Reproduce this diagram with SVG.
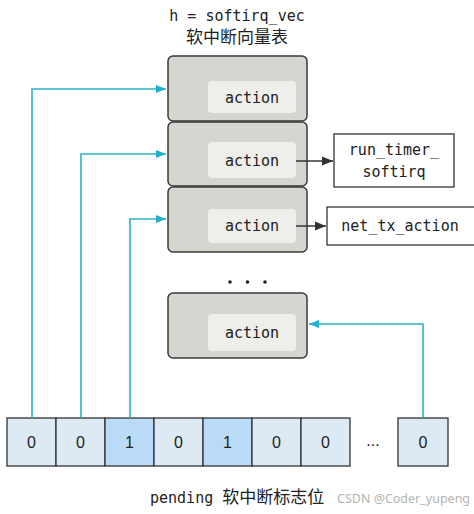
<svg xmlns="http://www.w3.org/2000/svg" width="474" height="514" viewBox="0 0 474 514">
<defs>
<style>
.mono{font-family:"DejaVu Sans Mono","Liberation Mono",monospace;font-size:15px;fill:#222}
.cjk{font-family:"Noto Sans CJK SC",sans-serif;font-size:17px;fill:#222}
.outer{fill:#d6d6d0;stroke:#3a3a3a;stroke-width:1.5}
.inner{fill:#eeeeea}
.fn{fill:#fff;stroke:#333;stroke-width:1.3}
.bit{fill:#dde9f3;stroke:#333;stroke-width:1.3}
.bit1{fill:#b9dbf7;stroke:#333;stroke-width:1.3}
.num{font-family:"Liberation Sans",Arial,sans-serif;font-size:16px;fill:#222}
.cy{fill:none;stroke:#2fb2c6;stroke-width:1.6}
.bk{fill:none;stroke:#333;stroke-width:1.5}
.dot{fill:#222}
</style>
<marker id="ac" viewBox="0 0 10 10" refX="10" refY="5" markerWidth="10" markerHeight="10" markerUnits="userSpaceOnUse" orient="auto"><path d="M0,1 L10,5 L0,9 Z" fill="#1fb0cc"/></marker>
<marker id="ab" viewBox="0 0 10 10" refX="10" refY="5" markerWidth="11" markerHeight="11" markerUnits="userSpaceOnUse" orient="auto"><path d="M0,1 L10,5 L0,9 Z" fill="#333"/></marker>
</defs>
<rect width="474" height="514" fill="#fff"/>
<g id="title">
<text class="mono" x="237" y="21" text-anchor="middle">h = softirq_vec</text>
<text class="cjk" x="237" y="43" text-anchor="middle">软中断向量表</text>
</g>
<g id="vec0"><rect class="outer" x="168" y="56" width="139" height="65" rx="5"/><rect class="inner" x="208" y="81" width="88" height="32" rx="4"/><text class="mono" x="252" y="103" text-anchor="middle">action</text></g>
<g id="vec1"><rect class="outer" x="168" y="122" width="139" height="64" rx="5"/><rect class="inner" x="208" y="142" width="88" height="36" rx="4"/><text class="mono" x="252" y="166" text-anchor="middle">action</text></g>
<g id="vec2"><rect class="outer" x="168" y="187" width="139" height="65" rx="5"/><rect class="inner" x="208" y="209" width="88" height="34" rx="4"/><text class="mono" x="252" y="231" text-anchor="middle">action</text></g>
<g id="dots"><circle class="dot" cx="230" cy="282" r="1.8"/><circle class="dot" cx="247.5" cy="282" r="1.8"/><circle class="dot" cx="265" cy="282" r="1.8"/></g>
<g id="vecN"><rect class="outer" x="168" y="293" width="139" height="65" rx="5"/><rect class="inner" x="208" y="314" width="88" height="37" rx="4"/><text class="mono" x="252" y="338" text-anchor="middle">action</text></g>
<g id="run_timer"><rect class="fn" x="334" y="134" width="120" height="53"/><text class="mono" x="394" y="155" text-anchor="middle">run_timer_</text><text class="mono" x="394" y="177" text-anchor="middle">softirq</text></g>
<g id="net_tx"><rect class="fn" x="327" y="207" width="150" height="38"/><text class="mono" x="400" y="231" text-anchor="middle">net_tx_action</text></g>
<g id="bits">
<rect class="bit" x="7" y="418" width="49" height="48"/><text class="num" x="31.5" y="447.5" text-anchor="middle">0</text>
<rect class="bit" x="56" y="418" width="49" height="48"/><text class="num" x="80.5" y="447.5" text-anchor="middle">0</text>
<rect class="bit1" x="105" y="418" width="49" height="48"/><text class="num" x="129.5" y="447.5" text-anchor="middle">1</text>
<rect class="bit" x="154" y="418" width="49" height="48"/><text class="num" x="178.5" y="447.5" text-anchor="middle">0</text>
<rect class="bit1" x="203" y="418" width="49" height="48"/><text class="num" x="227.5" y="447.5" text-anchor="middle">1</text>
<rect class="bit" x="252" y="418" width="49" height="48"/><text class="num" x="276.5" y="447.5" text-anchor="middle">0</text>
<rect class="bit" x="301" y="418" width="49" height="48"/><text class="num" x="325.5" y="447.5" text-anchor="middle">0</text>
<text class="num" x="373" y="446" text-anchor="middle" font-size="12">...</text>
<rect class="bit" x="398" y="418" width="50" height="48"/><text class="num" x="423" y="447.5" text-anchor="middle">0</text>
</g>
<g id="label">
<text x="150" y="503"><tspan class="mono">pending </tspan><tspan class="cjk">软中断标志位</tspan></text>
<text x="337" y="503" font-family="'Noto Sans','Liberation Sans',sans-serif" font-size="12.5" fill="#b4b4b4">CSDN @Coder_yupeng</text>
</g>
<g id="connectors">
<path class="cy" d="M32,418 V89 H166" marker-end="url(#ac)"/>
<path class="cy" d="M81,418 V154 H166" marker-end="url(#ac)"/>
<path class="cy" d="M130,418 V219 H166" marker-end="url(#ac)"/>
<path class="cy" d="M423,418 V324 H309" marker-end="url(#ac)"/>
<path class="bk" d="M296,161 H333" marker-end="url(#ab)"/>
<path class="bk" d="M296,226 H326" marker-end="url(#ab)"/>
</g>
</svg>
